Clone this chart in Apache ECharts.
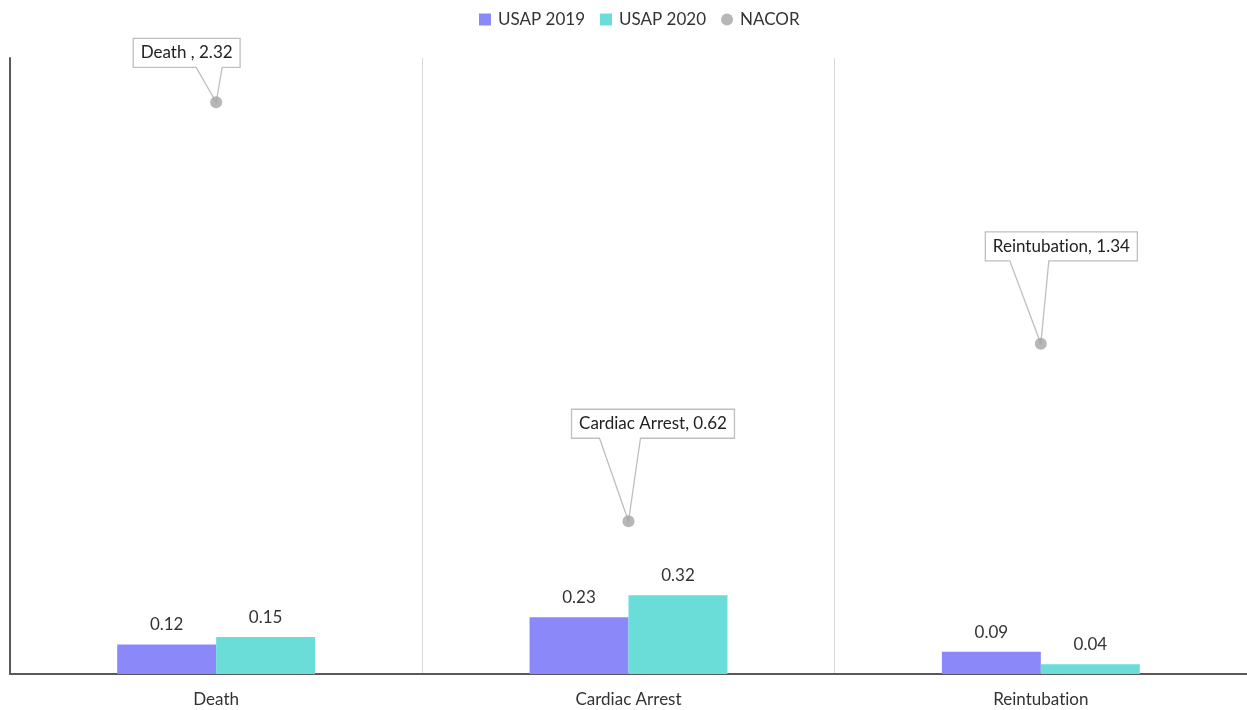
<!DOCTYPE html>
<html>
<head>
<meta charset="utf-8">
<script src="https://cdn.jsdelivr.net/npm/echarts@6/dist/echarts.min.js"></script>
<style>
  html, body { margin: 0; padding: 0; background: #fff; }
  #chart { width: 1247px; height: 710px; }
</style>
</head>
<body>
<div id="chart"></div>
<script>
// Complication rates by outcome
const categories = ['Death', 'Cardiac Arrest', 'Reintubation'];
const usap2019 = [0.12, 0.23, 0.09];
const usap2020 = [0.15, 0.32, 0.04];
const nacor = [2.32, 0.62, 1.34];
const nacorLabels = ['Death , 2.32', 'Cardiac Arrest, 0.62', 'Reintubation, 1.34'];

// Callout placement relative to each NACOR point (box centre x, box bottom y, pointer base x's)
const calloutLayout = [
  { cx: -29.5, bottom: -35, w1: -20, w2: 6 },
  { cx: 24.5, bottom: -83, w1: -29, w2: 12 },
  { cx: 20.5, bottom: -83, w1: -31, w2: 8 }
];

const FONT = 'Lato, "Open Sans", sans-serif';
const TEXT_COLOR = '#333333';
const LABEL_SIZE = 17;

// keep "t" and "i" as separate glyphs (no ligature)
function noLig(s) { return String(s).replace(/ti/g, 't\u200Ci'); }

const measureCtx = document.createElement('canvas').getContext('2d');
function textWidth(t) {
  measureCtx.font = LABEL_SIZE + 'px ' + FONT;
  return measureCtx.measureText(t).width;
}

const chart = echarts.init(document.getElementById('chart'), null, { renderer: 'canvas' });

chart.setOption({
  animation: false,
  textStyle: { fontFamily: FONT },
  legend: {
    top: 6,
    left: 474,
    itemWidth: 12,
    itemHeight: 12,
    itemGap: 15,
    textStyle: { fontSize: 17, color: TEXT_COLOR, fontFamily: FONT, padding: [0, 0, 0, 2] },
    data: [
      { name: 'USAP 2019', icon: 'rect' },
      { name: 'USAP 2020', icon: 'rect' },
      { name: 'NACOR', icon: 'circle' }
    ]
  },
  grid: { left: 10, right: -2, top: 58, bottom: 36, containLabel: false },
  xAxis: {
    type: 'category',
    data: categories,
    boundaryGap: true,
    axisLine: { show: true, lineStyle: { color: '#595959', width: 2 } },
    axisTick: { show: false },
    axisLabel: { fontSize: 17, color: TEXT_COLOR, margin: 17, fontFamily: FONT, formatter: noLig },
    splitLine: { show: true, lineStyle: { color: '#D9D9D9', width: 1 } }
  },
  yAxis: {
    type: 'value',
    min: 0,
    max: 2.5,
    axisLine: { show: true, lineStyle: { color: '#595959', width: 2 } },
    axisTick: { show: false },
    axisLabel: { show: false },
    splitLine: { show: false }
  },
  series: [
    {
      name: 'USAP 2019',
      type: 'bar',
      data: usap2019,
      barWidth: '24%',
      barGap: '0%',
      itemStyle: { color: '#8B89F9' },
      label: { show: true, position: 'top', distance: 11, fontSize: 17, color: TEXT_COLOR, fontFamily: FONT }
    },
    {
      name: 'USAP 2020',
      type: 'bar',
      data: usap2020,
      barWidth: '24%',
      barGap: '0%',
      itemStyle: { color: '#6BDDD8' },
      label: { show: true, position: 'top', distance: 11, fontSize: 17, color: TEXT_COLOR, fontFamily: FONT }
    },
    {
      name: 'NACOR callout',
      type: 'custom',
      data: nacor.map((v, i) => [i, v]),
      z: 3,
      silent: true,
      renderItem: function (params, api) {
        const i = params.dataIndex;
        const pt = api.coord([api.value(0), api.value(1)]);
        const lay = calloutLayout[i];
        const txt = noLig(nacorLabels[i]);
        const w = textWidth(txt) + 15;
        const h = 29;
        const cx = pt[0] + lay.cx;
        const B = pt[1] + lay.bottom;
        const T = B - h;
        const L = cx - w / 2;
        const R = cx + w / 2;
        return {
          type: 'group',
          children: [
            {
              type: 'polygon',
              shape: {
                points: [
                  [L, T], [R, T], [R, B],
                  [pt[0] + lay.w2, B], [pt[0], pt[1]], [pt[0] + lay.w1, B],
                  [L, B]
                ]
              },
              style: { fill: '#ffffff', stroke: '#BFBFBF', lineWidth: 1.3 }
            },
            {
              type: 'text',
              x: cx,
              y: T + h / 2,
              style: {
                text: txt,
                fill: '#222222',
                font: LABEL_SIZE + 'px ' + FONT,
                align: 'center',
                verticalAlign: 'middle'
              }
            }
          ]
        };
      }
    },
    {
      name: 'NACOR',
      type: 'scatter',
      data: nacor,
      symbol: 'circle',
      symbolSize: 12,
      z: 4,
      itemStyle: { color: '#A5A5A5' }
    }
  ]
});
</script>
</body>
</html>
